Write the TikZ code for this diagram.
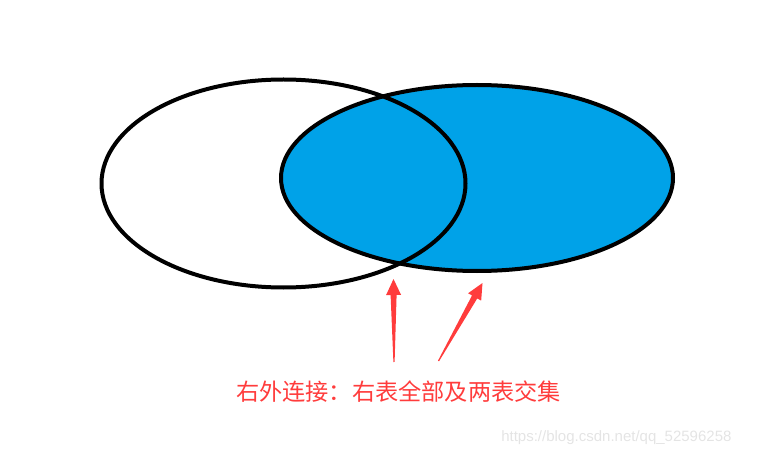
\documentclass[tikz,border=0pt]{standalone}
\usepackage{fontspec}
\setmainfont{Liberation Sans}
\newfontfamily\cjk{Noto Sans CJK SC}
\usetikzlibrary{calc}
\definecolor{joinblue}{HTML}{00A2E8}
\definecolor{joinred}{HTML}{FF3C3C}
\definecolor{markgray}{HTML}{E4E4E4}
% tapered arrow from #1 (tail) to #2 (tip)
\newcommand\joinarrow[2]{%
  \coordinate (b) at ($(#2)!16pt!(#1)$);
  \fill[joinred] ($(#1)!0.6pt!90:(#2)$) -- ($(b)!3pt!-90:(#1)$) -- ($(b)!7.5pt!-90:(#1)$) -- (#2)
    -- ($(b)!7.5pt!90:(#1)$) -- ($(b)!3pt!90:(#1)$) -- ($(#1)!0.6pt!-90:(#2)$) -- cycle;}
\begin{document}
\begin{tikzpicture}[x=1pt,y=-1pt,line join=round,line cap=round,
  outline/.style={line width=4pt}]
	\useasboundingbox (0,0) rectangle (763,457);
	\coordinate (lc) at (283.5,183.5);
	\coordinate (rc) at (477,178);
	\fill[joinblue] (rc) ellipse (196 and 93);
	\draw[outline] (rc) ellipse (196 and 93);
	\draw[outline] (lc) ellipse (182 and 104);
	\coordinate (t1) at (394,362); \coordinate (h1) at (393.5,279);
	\coordinate (t2) at (438.5,361); \coordinate (h2) at (482.5,283);
	\joinarrow{t1}{h1}
	\joinarrow{t2}{h2}
	\node[text=joinred,font=\cjk\fontsize{23.2}{27}\selectfont] (lbl) at (398.5,392) {右外连接：右表全部及两表交集};
	\node[text=markgray,font=\fontsize{15}{18}\selectfont,anchor=east] (wm) at (735,438) {https://blog.csdn.net/qq\_52596258};
\end{tikzpicture}
\end{document}
